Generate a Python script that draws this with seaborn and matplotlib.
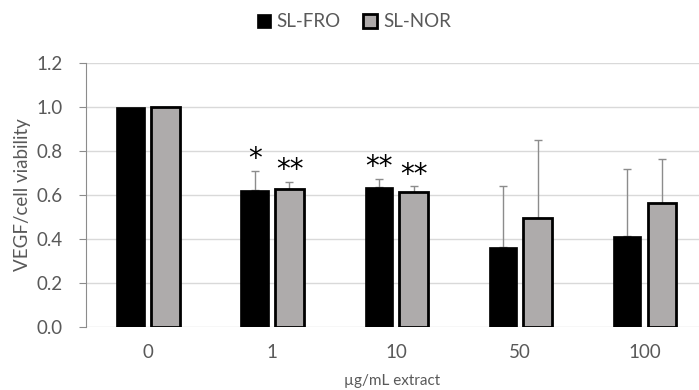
import pandas as pd
import numpy as np
import matplotlib.pyplot as plt
import seaborn as sns
from matplotlib.patches import Patch

# data
doses = ["0", "1", "10", "50", "100"]
fro_mean = [1.00, 0.623, 0.635, 0.362, 0.415]
fro_err = [0.0, 0.086, 0.039, 0.280, 0.302]
nor_mean = [1.00, 0.627, 0.612, 0.497, 0.562]
nor_err = [0.0, 0.032, 0.027, 0.354, 0.203]
fro_stars = ["", "*", "**", "", ""]
nor_stars = ["", "**", "**", "", ""]

df = pd.DataFrame({
    "dose": doses * 2,
    "group": ["SL-FRO"] * 5 + ["SL-NOR"] * 5,
    "value": fro_mean + nor_mean,
})

sns.set_style("white")
plt.rcParams["font.family"] = ["Lato", "DejaVu Sans"]
txt = "#595959"
gray = "#AEAAAA"

fig = plt.figure(figsize=(6.99, 3.90), dpi=100)
ax = fig.add_axes([0.123, 0.1615, 0.877, 0.677])

sns.barplot(data=df, x="dose", y="value", hue="group", order=doses,
            palette={"SL-FRO": "black", "SL-NOR": gray},
            width=0.56, gap=0.18, errorbar=None, ax=ax, zorder=3, legend=False)

# bar edges + error bars + stars
n = len(doses)
for i, p in enumerate(ax.patches[:2 * n]):
    grp = i // n
    k = i % n
    p.set_edgecolor("black")
    p.set_linewidth(0.5 if grp == 0 else 2.0)
    x = p.get_x() + p.get_width() / 2
    h = p.get_height()
    err = fro_err[k] if grp == 0 else nor_err[k]
    star = fro_stars[k] if grp == 0 else nor_stars[k]
    if err > 0:
        ax.errorbar(x, h, yerr=[[0], [err]], fmt="none", ecolor="#8c8c8c",
                    elinewidth=1, capsize=3, capthick=1, zorder=2)
    if star:
        ax.text(x, h + err - 0.01, star, ha="center", va="bottom",
                fontsize=20, color="black", family="DejaVu Sans")

ax.set_ylim(0, 1.2)
ax.set_xlim(-0.5, 4.44)
ax.set_yticks(np.arange(0, 1.21, 0.2))
ax.set_yticklabels([f"{v:.1f}" for v in np.arange(0, 1.21, 0.2)])
ax.yaxis.grid(True, color="#d9d9d9", linewidth=1)
ax.set_axisbelow(True)
for s in ["top", "right", "bottom"]:
    ax.spines[s].set_visible(False)
ax.spines["left"].set_color("#8c8c8c")
ax.tick_params(axis="y", left=True, length=5, color="#8c8c8c",
               labelsize=13.5, labelcolor=txt, pad=12)
ax.tick_params(axis="x", bottom=False, labelsize=13.5, labelcolor=txt, pad=9)

ax.set_ylabel("VEGF/cell viability", fontsize=13.5, color=txt, labelpad=4)
ax.set_xlabel("µg/mL extract", fontsize=11, color=txt, labelpad=9)

handles = [Patch(facecolor="black", edgecolor="black", linewidth=0.5),
           Patch(facecolor=gray, edgecolor="black", linewidth=2)]
ax.legend(handles, ["SL-FRO", "SL-NOR"], loc="lower center",
          bbox_to_anchor=(0.437, 1.06), ncol=2, frameon=False, fontsize=13.5,
          labelcolor=txt, handlelength=0.75, handleheight=0.75,
          handletextpad=0.3, columnspacing=1.2)

plt.savefig("out.png", dpi=100)
